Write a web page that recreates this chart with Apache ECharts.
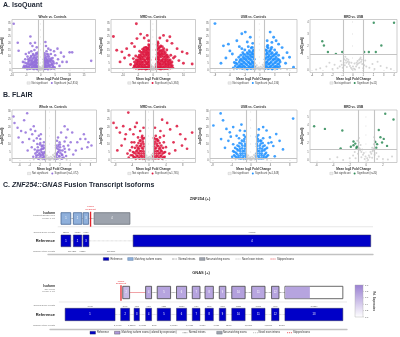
<!DOCTYPE html>
<html><head><meta charset="utf-8">
<script src="https://cdn.jsdelivr.net/npm/echarts@6/dist/echarts.min.js"></script>
<style>html,body{margin:0;padding:0;background:#fff}#c{width:400px;height:337px}</style>
</head><body><div id="c"></div>
<script>
// ---------------- DATA ----------------
const comparisons = ['Whole vs. Controls','MRD vs. Controls','USB vs. Controls','MRD vs. USB'];
const isoCounts = ['2,810','5,384','4,136','11'];
const flairCounts = ['1,072','1,765','1,348','20'];

// IsoQuant volcano points [log2FC, -log10(padj)]
const isoWholeSig = [[-9.4,34.8],[-8,20.4],[-7.7,14.4],[-3.6,25.2],[10,13.2],[10.9,13.2],[17.5,6.8],
[-1.2,1.5],[-1.4,3],[-1.6,2],[-1.3,5],[-1.8,4],[-2,1.8],[-2.2,6],[-1.5,8],[-2.5,3],[-2.8,5],[-3,2],[-2.4,9],[-3.2,7],[-3.5,4],[-1.9,11],[-2.7,12],[-3.8,9],[-4,3],[-4.3,6],[-4.6,10],[-5,5],[-5.4,8],[-5.8,3],[-3.3,14],[-2.2,15],[-4.1,13],[-1.4,17],[-2.9,18],[-3.6,20],[-5.2,12],[-1.1,13],[-2,20.5],[-6.2,6],[-1.7,6.5],[-2.6,1],[-3.9,1.2],[-4.8,2],[-5.5,1.5],[-1.2,10],[-3.4,10.5],[-4.4,8],[-2.1,3.5],[-3.1,4.5],[-1.6,12.5],
[-1.15,0.5],[-1.3,2.2],[-1.5,0.8],[-1.7,3.5],[-1.9,1.2],[-2.1,4.8],[-2.3,2.7],[-2.5,0.6],[-2.7,3.9],[-2.9,6.2],[-3.1,1.5],[-3.3,3.2],[-3.5,5.5],[-3.7,0.9],[-3.9,4.2],[-4.1,7],[-4.3,2.1],[-4.5,4.6],[-4.7,0.7],[-4.9,3.3],[-1.25,7.2],[-1.65,9],[-2.05,7.4],[-2.45,5.9],[-2.85,8.1],[-3.25,9.4],[-1.45,5.5],[-1.85,6.3],[-2.2,9.8],[-3.6,7.2],[-5.2,2.7],[-5.6,5.6],[-6,1.9],[-1.35,12],[-2.6,11],
[1.2,1.5],[1.3,4],[1.5,2.5],[1.7,6],[1.9,3],[2.1,8],[2.3,1.5],[2.5,5],[2.8,10],[3,3],[3.2,7],[3.5,12],[3.8,4],[4.1,9],[4.4,6],[4.8,2],[5,11],[5.5,5],[6,8],[6.5,3],[7,13],[8,10],[9,6],[1.4,11],[2,14],[2.6,16],[3.4,15],[1.8,18],[4.6,14],[5.8,16],[1.1,8],[2.2,12],[3.9,1.5],[7.5,6],[1.6,21],[1.2,6.5],[2.7,3.2],[3.6,8.5],[1.5,9.5],[2.4,6.8],[4.2,3],
[1.15,0.6],[1.3,2.4],[1.5,0.9],[1.7,3.8],[1.9,1.1],[2.1,5],[2.3,2.9],[2.5,0.5],[2.7,4.1],[2.9,6.4],[3.1,1.7],[3.3,3.4],[3.5,5.7],[3.7,0.8],[3.9,4.4],[4.1,6.8],[4.3,2.3],[4.5,4.8],[4.7,1],[1.25,7.4],[1.65,8.8],[2.05,7.1],[2.45,6],[2.85,8.3],[1.45,5.2],[1.85,6.6],[2.2,10],[3.6,7.4],[1.35,12.5],[2.6,11.5]];
const isoWholeNs = [[-0.9,0.2],[-0.7,0.6],[-0.5,1.1],[-0.3,0.4],[-0.1,0.9],[0.1,0.2],[0.3,0.7],[0.5,1.3],[0.7,0.3],[0.9,1.0],[-0.8,1.8],[0.8,2.2],[-0.6,2.6],[0.6,3.0],[-0.4,0.1],[0.2,1.6],[-0.2,2.1],[0,0.5],[-1.5,0.6],[-2.3,0.3],[-3.1,0.9],[-4.2,0.4],[1.6,0.5],[2.4,1.0],[3.3,0.3],[4.5,0.7],[-0.95,3.5],[0.95,4.0],[-0.85,4.8],[0.9,5.5]];

const isoMrdSig = [[-13.2,25.2],[-5.6,34.8],[-12.1,14.8],[-10.4,13.6],[-8.8,16],[-7.1,20],[-5.4,23.6],[-9.5,9],[-11,6],[-8,11],[-7.5,4],[-4.2,27],[-3,24],[-2,26],[-1.5,22],[-6.2,17.5],
[3.4,26],[4.6,22],[6.2,20],[7.9,16],[9.6,13.6],[11.2,12.4],[12.9,4.4],[2.2,24],[1.5,21],[8.5,7],[10,5],[7.2,10],[5.5,25],
[-1.1,1],[-1.2,4],[-1.1,7.5],[-1.3,11],[-1.2,14.5],[-1.4,17],[-1.6,2.5],[-1.7,6],[-1.6,9.5],[-1.8,13],[-1.9,16],[-2.1,0.8],[-2.2,4.5],[-2.0,8],[-2.3,11.5],[-2.4,15],[-2.6,2],[-2.7,6.5],[-2.8,10],[-2.9,13.5],[-3.1,1],[-3.2,4],[-3.3,8],[-3.4,12],[-3.5,15.5],[-3.7,2.5],[-3.8,6],[-3.9,9.5],[-4.0,13],[-4.2,1],[-4.3,4.5],[-4.4,8],[-4.6,11],[-4.8,2.5],[-4.9,6],[-5.0,9.5],[-5.3,1.5],[-5.4,4.5],[-5.6,7.5],[-5.8,10.5],[-6.0,3],[-6.2,6],[-6.5,1.5],[-6.6,8.5],[-2.5,17],[-3.0,16.5],[-1.5,19],[-4.5,14],
[-1.15,2.8],[-1.35,5.8],[-1.25,9],[-1.45,12.5],[-1.55,15.5],[-1.75,1.2],[-1.85,4.2],[-1.75,7.8],[-1.95,11],[-2.05,14],[-2.25,2.2],[-2.35,5.6],[-2.15,9.2],[-2.45,12.8],[-2.55,0.6],[-2.75,3.6],[-2.85,7.6],[-2.95,11.2],[-3.05,14.8],[-3.25,2.2],[-3.35,5.8],[-3.45,9.8],[-3.55,13.4],[-3.75,0.8],[-3.85,4.2],[-3.95,7.8],[-4.05,11],[-4.25,2.8],[-4.35,6.2],[-4.55,9.4],[-4.75,0.8],[-4.85,4.2],[-5.05,7.2],[-5.25,3],[-5.45,6],[-5.75,1.2],[-5.9,4.5],[-6.3,3],[-1.3,18.5],[-2.2,16.8],
[1.1,1],[1.2,4.5],[1.1,8],[1.3,11.5],[1.2,15],[1.4,18],[1.6,2.5],[1.7,6],[1.6,9.5],[1.8,13],[1.9,16.5],[2.1,0.8],[2.2,4],[2.0,7.5],[2.3,11],[2.4,14.5],[2.6,2],[2.7,6.5],[2.8,10],[2.9,13.5],[3.1,1],[3.2,4.5],[3.3,8],[3.4,12],[3.5,16],[3.7,2.5],[3.8,6],[3.9,9.5],[4.0,13],[4.2,1],[4.3,4.5],[4.4,8],[4.6,11],[4.8,2.5],[4.9,6],[5.0,9.5],[5.3,1.5],[5.4,4.5],[5.6,7.5],[5.8,11],[6.0,3],[6.2,6],[6.5,1.5],[6.7,9],[2.5,18],[3.0,17.5],[1.6,20],[4.5,15],
[1.15,2.6],[1.35,6],[1.25,9.4],[1.45,12.8],[1.55,16],[1.75,1.4],[1.85,4.4],[1.75,8],[1.95,11.4],[2.05,14.4],[2.25,2.4],[2.35,5.4],[2.15,9.6],[2.45,12.4],[2.55,0.6],[2.75,3.8],[2.85,7.4],[2.95,11.6],[3.05,15],[3.25,2.4],[3.35,6],[3.45,10],[3.55,13.8],[3.75,1],[3.85,4.4],[3.95,7.6],[4.05,11.4],[4.25,3],[4.35,6.4],[4.55,9.8],[4.75,1],[4.85,4.4],[5.05,7.4],[5.25,3.2],[5.45,6.2],[5.75,1.4],[5.9,4.8],[6.3,3.2],[1.3,19],[2.2,17.2]];
const isoMrdNs = [[-0.9,0.3],[-0.7,0.8],[-0.5,1.4],[-0.3,0.5],[-0.1,1],[0.1,0.2],[0.3,0.9],[0.5,1.6],[0.7,0.4],[0.9,1.1],[-0.8,2.2],[0.8,2.6],[-0.6,3.2],[0.6,3.6],[-0.4,0.1],[0.2,1.9],[-0.2,2.5],[0,0.6],[-1.6,0.5],[-2.5,0.3],[-3.4,0.8],[-4.6,0.4],[1.7,0.6],[2.6,1.0],[3.5,0.3],[4.7,0.7],[-0.95,4.2],[0.95,4.6],[-1.2,1.0],[1.3,1.1]];

const isoUsbSig = [[-9,34.9],[-7.3,18.1],[-6.3,19.4],[-6,14.3],[-4.6,22],[-3.6,27.2],[-2.9,28.5],[-1.9,24.6],[-5.5,12],[-6.8,9],[-2.5,21],[-1.4,20],[-4.1,17.5],[-7.8,5],
[-1.1,1],[-1.2,4.5],[-1.1,8],[-1.3,11.5],[-1.2,15],[-1.4,2.5],[-1.5,6],[-1.6,9.5],[-1.5,13],[-1.7,16.5],[-1.8,1],[-1.9,4.5],[-2.0,8],[-1.9,11.5],[-2.1,14.5],[-2.2,2.5],[-2.3,6],[-2.4,10],[-2.5,13],[-2.6,1],[-2.7,4.5],[-2.8,8],[-2.9,11.5],[-3.0,15],[-3.1,2.5],[-3.2,6],[-3.3,9.5],[-3.4,13],[-3.5,1],[-3.6,4.5],[-3.7,8],[-3.8,11],[-4.0,2.5],[-4.1,6],[-4.2,9.5],[-4.4,1.5],[-4.5,4.5],[-4.7,7.5],[-4.9,3],[-5.1,5.5],[-5.3,1.5],[-2.3,17.5],[-3.6,16],
[-1.15,2.8],[-1.35,5.6],[-1.25,9.6],[-1.45,12],[-1.35,14.2],[-1.65,1.6],[-1.75,4],[-1.7,7.2],[-1.85,10.5],[-1.95,13.4],[-2.05,2],[-2.15,5.4],[-2.25,8.8],[-2.35,12],[-2.5,0.6],[-2.55,3.6],[-2.65,7],[-2.75,10],[-2.95,1.8],[-3.05,5],[-3.15,8.4],[-3.25,11.6],[-3.4,3.2],[-3.5,6.6],[-3.65,2],[-3.85,4.2],[-3.95,7.4],[-4.25,2.8],[-4.6,1.2],[-4.8,5],[-1.5,17],
[1.1,1],[1.2,4.5],[1.1,8],[1.3,11.5],[1.2,15],[1.4,2.5],[1.5,6],[1.6,9.5],[1.5,13],[1.7,16.5],[1.8,1],[1.9,4.5],[2.0,8],[1.9,11.5],[2.1,14.5],[2.2,2.5],[2.3,6],[2.4,10],[2.5,13],[2.6,1],[2.7,4.5],[2.8,8],[2.9,11.5],[3.0,15],[3.1,2.5],[3.2,6],[3.3,9.5],[3.4,13],[3.5,1],[3.6,4.5],[3.7,8],[3.8,11],[4.0,2.5],[4.1,6],[1.6,18.5],[2.4,17],
[1.15,2.6],[1.35,5.8],[1.25,9.2],[1.45,12.4],[1.35,14.6],[1.65,1.4],[1.75,4.2],[1.7,7.4],[1.85,10.2],[1.95,13.8],[2.05,2.2],[2.15,5.2],[2.25,9],[2.35,12.2],[2.5,0.6],[2.55,3.4],[2.65,7.2],[2.75,10.4],[2.95,2],[3.05,5.2],[3.15,8.2],[3.25,11.8],[3.4,3],[3.5,6.8],[3.65,1.8],[3.85,4.4],[3.95,7.2],[1.5,17.4],[2.3,15.8],
[2.1,28.5],[2.8,24.6],[2.45,20.7],[3.8,19.4],[4.5,16.8],[5.5,13],[6.8,2],[1.5,22],[4.7,9],[5.2,5],[3.3,22],[6,9.5]];
const isoUsbNs = [[-0.9,0.2],[-0.7,0.9],[-0.5,1.5],[-0.3,0.4],[-0.1,1.1],[0.1,0.3],[0.3,0.8],[0.5,1.7],[0.7,0.5],[0.9,1.2],[-0.8,2.4],[0.8,2.8],[-0.6,3.4],[0.6,3.9],[-0.2,2.0],[0.2,2.3],[0,0.7],[-1.5,0.4],[-2.2,0.9],[-3.1,0.3],[-4,0.6],[1.6,0.5],[2.3,0.8],[3.1,0.2],[4.2,0.6],[-0.95,5],[0.95,5.4],[-5.2,0.2],[5.5,0.3]];

const isoMrdUsbSig = [[2.03,3.93],[4.01,3.93],[-3.0,2.39],[-2.84,2.04],[-2.45,1.5],[-1.67,1.35],[-1.05,1.5],[1.09,1.5],[1.55,1.5],[2.23,1.5],[2.77,2.04]];
const isoMrdUsbNs = [[-0.6,0.95],[-0.7,0.8],[-0.5,0.7],[-0.9,0.6],[-0.4,0.5],[-1.1,0.45],[-0.3,0.35],[-0.8,0.4],[-1.3,0.3],[-0.2,0.2],[-0.6,0.25],[-1.0,0.2],[-1.5,0.15],[-0.1,0.1],[0.1,0.12],[0.3,0.3],[0.5,0.55],[0.6,0.85],[0.7,0.95],[0.8,0.7],[0.9,0.5],[1.1,0.4],[0.4,0.45],[1.3,0.3],[0.6,0.2],[1.0,0.15],[1.6,0.2],[0.2,0.05],[-2.0,0.1],[-2.6,0.3],[-3.2,0.15],[-1.8,0.45],[2.1,0.1],[2.7,0.35],[3.3,0.2],[1.9,0.5],[-2.3,0.6],[2.4,0.7],[-3.6,0.05],[3.7,0.1],[-1.2,0.75],[1.2,0.8],[-0.75,1.1],[0.75,1.05],[-0.45,0.85],[0.45,0.75],[0,0.3],[-0.15,0.6],[0.15,0.55],[-0.65,0.6],[0.65,0.6],[-0.85,0.9],[0.85,0.85],[-0.35,0.65],[0.35,0.6]];

// FLAIR volcano points
const flairWholeSig = [[-7,23],[-5.1,24.6],[-4.5,29],[-6.4,20],[-5.7,18],[-4.8,17],[-3.8,19],[-3.2,21],[-3.5,16],[-2.9,18],[-2.2,15],[-4.1,13],[-3.2,12],[-2.5,10],[-5.4,11],[-1.9,13],[-1.6,9],[-1.3,7],[-2.2,6],[-2.9,4],[-1.7,3],[-1.15,2],[-2.1,1],[-1.5,4.5],[-6.2,14],[-3.6,8],[-4.4,6],[-2.6,13.5],[-1.2,11],[-1.8,16],[-3.3,2],[-1.1,5],[-2.4,8],[-1.4,1.5],[-1.9,10.5],[-2.7,2.8],[-1.6,6.8],[-1.25,9],[-2,3.5],[-3,6.5],[-7.2,27],
[-1.1,0.6],[-1.3,2.8],[-1.5,1.2],[-1.7,5.2],[-1.9,2.2],[-2.1,4.2],[-2.3,0.8],[-2.5,6],[-2.7,1.6],[-1.2,7.6],[-1.6,8.4],[-2,9.6],[-1.4,3.8],[-1.8,6.4],[-2.4,3],[-1.05,4.4],[-2.6,4.8],
[6.7,16],[7,13],[7.4,8],[5.4,11],[6,13],[7.6,11],[4.4,17],[3.5,19],[2.9,21],[2.2,17],[1.6,14],[3.2,14],[4.1,11],[5.1,6],[1.6,5],[1.1,2],[1.3,4],[1.5,7],[1.2,9],[1.8,2.5],[2.1,6],[2.4,3.5],[2.7,8.5],[1.9,11],[3,5],[3.6,9],[2.5,1.2],[1.4,12],[4.6,3.5],[3.8,6.5],[1.2,1],[2,8],[2.9,11.5],[1.7,9.5],[8.2,9],[6.3,7],
[1.1,0.6],[1.3,2.8],[1.5,1.2],[1.7,5.2],[1.9,2.2],[2.1,4.2],[2.3,0.8],[2.5,6],[2.7,1.6],[1.2,7.6],[1.6,8.4],[2,9.6],[1.4,3.8],[1.8,6.4],[2.4,3],[3.2,2.5],[2.9,7]];
const flairWholeNs = [[-0.9,0.3],[-0.7,0.7],[-0.5,1.2],[-0.3,0.4],[-0.1,0.9],[0.1,0.2],[0.3,0.8],[0.5,1.4],[0.7,0.3],[0.9,1.0],[-0.8,1.9],[0.8,2.3],[-0.6,2.8],[0.6,3.1],[0,0.5],[-0.2,1.7],[0.2,2],[-1.5,0.4],[-2.3,0.8],[-3.2,0.3],[1.6,0.6],[2.4,0.9],[3.3,0.2],[-0.95,3.6],[0.95,4]];

const flairMrdSig = [[-1.1,1],[-1.2,4],[-1.4,7],[-1.3,10],[-1.5,13],[-1.7,2.5],[-1.8,5.5],[-1.9,9],[-2.0,12],[-2.2,1],[-2.3,4],[-2.4,7],[-2.5,10.5],[-2.7,2.5],[-2.8,6],[-2.9,9],[-3.1,1],[-3.2,4],[-3.3,7.5],[-3.5,11],[-3.7,2],[-3.8,5],[-4.0,8],[-4.3,3],[-4.5,6],[-4.8,1.5],[-5.1,4],[-1.6,15],[-2.6,14],
[-1.1,2.4],[-1.3,5.4],[-1.25,8.4],[-1.45,11.4],[-1.6,1.2],[-1.75,4],[-1.7,7.4],[-1.85,10.2],[-2.05,2.6],[-2.15,5.6],[-2.2,8.6],[-2.45,1.4],[-2.55,4.4],[-2.65,7.6],[-2.9,2.8],[-3,5.4],[-3.4,1.8],[-3.55,4.6],[-3.9,3],[-1.15,13.6],[-2.2,12],
[-8.4,23],[-4.9,29.4],[-7.7,20],[-6.9,17],[-6.1,21],[-4.5,19],[-3.7,16],[-2.9,23],[-2.1,18],[-1.7,14],[-5.7,13],[-4.1,11],[-6.5,9],[-7.5,6],[-3.3,20.5],[-1.3,20],[-5.5,16],
[1.1,1],[1.2,4],[1.4,7],[1.3,10],[1.5,13],[1.7,2.5],[1.8,5.5],[1.9,9],[2.0,12],[2.2,1],[2.3,4],[2.4,7],[2.5,10.5],[2.7,2.5],[2.8,6],[2.9,9],[3.1,1],[3.2,4],[3.3,7.5],[3.5,11],[3.7,2],[3.8,5],[4.0,8],[1.6,15],[2.6,14],
[1.1,2.4],[1.3,5.4],[1.25,8.4],[1.45,11.4],[1.6,1.2],[1.75,4],[1.7,7.4],[1.85,10.2],[2.05,2.6],[2.15,5.6],[2.2,8.6],[2.45,1.4],[2.55,4.4],[2.65,7.6],[2.9,2.8],[3,5.4],[3.4,1.8],[3.55,4.6],[1.15,13.6],[2.2,12],
[10.2,17],[6.6,21],[7.4,16],[8.6,13],[5,19],[4.3,23],[3.5,15],[5.8,11],[2.7,18],[1.9,13],[7.8,9],[6.2,6],[9,7],[4.8,4],[1.4,20],[3.1,25]];
const flairMrdNs = [[-0.9,0.3],[-0.7,0.7],[-0.5,1.2],[-0.3,0.4],[-0.1,0.9],[0.1,0.2],[0.3,0.8],[0.5,1.4],[0.7,0.3],[0.9,1.0],[-0.8,1.9],[0.8,2.3],[-0.6,2.8],[0.6,3.1],[0,0.5],[-0.2,1.7],[0.2,2],[-1.5,0.4],[-2.3,0.8],[-3.2,0.3],[1.6,0.6],[2.4,0.9],[3.3,0.2],[-0.95,3.6],[0.95,4]];

const flairUsbSig = [[-1.1,1],[-1.2,4],[-1.3,7],[-1.2,10],[-1.4,13],[-1.6,2.5],[-1.7,5.5],[-1.8,9],[-1.9,12],[-2.1,1],[-2.2,4],[-2.3,7],[-2.4,10.5],[-2.6,2.5],[-2.7,6],[-2.8,9],[-3.0,1.5],[-3.1,4.5],[-3.3,7.5],[-3.5,3],[-3.7,5.5],[-3.9,2],[-1.5,15.5],[-2.5,13.5],
[-1.15,2.6],[-1.35,5.6],[-1.25,8.6],[-1.45,11.6],[-1.65,1.2],[-1.75,4],[-1.85,7.2],[-2.0,10.2],[-2.15,2.8],[-2.25,5.6],[-2.45,8.4],[-2.55,1.2],[-2.85,3.6],[-2.95,6.8],[-3.25,2.2],[-3.45,5],[-1.2,14.4],
[-7.8,21.4],[-6.3,28.9],[-5.8,24.6],[-5.1,19.3],[-4.4,17.2],[-3.7,20.4],[-3,15],[-2.3,18.3],[-4.7,11.9],[-3.7,9.8],[-5.4,7.6],[-6.2,13],[-2,22],[-4.2,14.5],[-1.3,18],
[1.1,1],[1.2,4],[1.3,7],[1.2,10],[1.4,13],[1.6,2.5],[1.7,5.5],[1.8,9],[1.9,12],[2.1,1],[2.2,4],[2.3,7],[2.4,10.5],[2.6,2.5],[2.7,6],[2.8,9],[3.0,1.5],[3.1,4.5],[3.3,7.5],[3.5,3],[1.5,15.5],[2.5,13.5],
[1.15,2.6],[1.35,5.6],[1.25,8.6],[1.45,11.6],[1.65,1.2],[1.75,4],[1.85,7.2],[2.0,10.2],[2.15,2.8],[2.25,5.6],[2.45,8.4],[2.55,1.2],[2.85,3.6],[2.95,6.8],[3.25,2.2],[1.2,14.4],
[5.2,16.1],[8.7,25.7],[5.9,11.9],[4.9,2.3],[3.2,18.3],[3.9,14],[2.5,20.4],[2.1,11.9],[4.6,8.7],[6.6,6.6],[1.6,19],[4.2,11],[3.6,10.5]];
const flairUsbNs = [[-0.9,0.3],[-0.7,0.7],[-0.5,1.2],[-0.3,0.4],[-0.1,0.9],[0.1,0.2],[0.3,0.8],[0.5,1.4],[0.7,0.3],[0.9,1.0],[-0.8,1.9],[0.8,2.3],[-0.6,2.8],[0.6,3.1],[0,0.5],[-0.2,1.7],[0.2,2],[-1.5,0.4],[-2.3,0.8],[-3.2,0.3],[1.6,0.6],[2.4,0.9],[3.3,0.2],[-0.95,3.6],[0.95,4]];

const flairMrdUsbSig = [[-6.3,3.94],[-5.0,3.64],[-2.9,3.46],[-3.1,1.42],[-1.55,1.78],[-1.34,1.96],[-1.13,1.6],[1.08,2.14],[1.3,1.9],[1.7,2.68],[1.9,2.08],[2.28,5.38],[3.28,4.72],[1.5,3.52],[2.1,2.5],[-1.55,2.2],[-1.87,1.6],[1.2,1.5],[-1.2,1.45],[2.5,1.7]];
const flairMrdUsbNs = [[-1.2,1.6],[-0.9,2.1],[-0.7,1.8],[-0.5,1.3],[-0.3,0.9],[-0.1,0.5],[0.1,0.3],[0.3,0.6],[0.5,1.0],[0.7,1.5],[0.9,1.9],[1.0,2.3],[-1.1,2.3],[-0.8,1.4],[-0.6,1.0],[-0.4,0.7],[0.4,0.4],[0.6,0.8],[0.8,1.2],[-1.4,1.0],[-1.6,0.6],[-2,0.3],[1.2,0.9],[1.5,0.5],[2,0.2],[-2.8,0.1],[2.6,0.15],[-0.2,0.2],[0.2,0.1],[-1.0,0.8],[1.0,0.7],[-1.3,0.3],[1.3,0.2],[-0.6,0.4],[0.7,0.35],[-3.5,0.4],[-4.4,0.2],[3.1,0.5],[-0.9,2.6],[0.95,2.7],[-0.75,1.2],[0.75,1.1],[-0.95,1.5],[0.9,1.4]];

// axis ranges & tick labels
const xRanges = [[-10,19],[-14,14],[-10,7.5],[-4.2,4.3],[-7.5,9.2],[-9,11],[-8.5,9.5],[-6.8,3.7]];
const yRanges = [[-2,38],[-2,38],[-2,38],[-0.2,4.2],[-1.5,31],[-1.5,31],[-1.5,31],[-0.2,5.8]];
const xTicks = [[-10,-5,0,5,10,15],[-10,-5,0,5,10],[-9,-6,-3,0,3,6],[-4,-3,-2,-1,0,1,2,3,4],[-6,-4,-2,0,2,4,6,8],[-8,-4,0,4,8],[-8,-4,0,4,8],[-6,-4,-2,0,2]];
const yTicks = [[0,5,10,15,20,25,30,35],[0,5,10,15,20,25,30,35],[0,5,10,15,20,25,30,35],[0,1,2,3,4],[0,5,10,15,20,25,30],[0,5,10,15,20,25,30],[0,5,10,15,20,25,30],[0,1,2,3,4,5]];
const fcCut = 1, padjCut = 1.3;

// ZNF254 track (display coordinate 0-100 along the locus)
const znfRefExons = [[4.0,7.0],[7.8,10.4],[10.8,12.6],[26.2,99.3]];
const znfRefNames = ['1','2','3','4'];
const znfExonLen = ['131bp','119bp','87bp','4170bp'];
const znfIntronLen = ['10143bp','983bp','10120bp'];
const znfIsoExons = [[4.0,7.0],[7.8,10.4],[10.8,12.5],[14.2,25.2]];
const znfIsoNames = ['1','2','3','4'];
const znfIsoMatch = [true,true,true,false];
const znfBreak = 13.1;

// GNAS track
const gnasRefExons = [[5.1,21.9],[23.8,26.8],[28.3,30.1],[32.2,34.2],[36.1,40.6],[42.6,46.0],[47.9,50.5],[52.2,55.0],[57.0,59.2],[61.2,65.7],[67.9,72.4],[74.6,77.1],[79.1,98.6]];
const gnasRefNames = ['1','2','3','4','5','6','7','8','9','10','11','12','13'];
const gnasExonLen = ['466bp','84bp','42bp','43bp','72bp','111bp','44bp','63bp','39bp','112bp','119bp','46bp','1072bp'];
const gnasIntronLen = ['2,747bp','3,257bp','1,066bp','87bp','1,309bp','1,046bp','246bp','149bp','187bp','1,187bp','1,253bp','253bp'];
const gnasIsoExons = [[24.5,26.8],[32.2,34.2],[36.1,40.6],[42.6,46.0],[47.9,50.5],[52.2,55.0],[57.0,59.2],[61.2,65.7],[67.9,72.4],[74.6,77.1],[79.1,98.6]];
const gnasIsoNames = ['2','4','5','6','7','8','9','10','11','12','13'];
const gnasIsoExpr = [0.55,0.7,0.72,0.7,0.72,0.7,0.7,0.75,0.7,0.72,0.72];
const gnasIsoCoveredTo = [null,null,null,null,null,null,null,null,null,null,87.5];
const gnasBreak = 23.9;
const gnasSkipped = [[26.8,32.2]];
const colorbarTicks = ['1.0','0.8','0.6','0.4','0.2','0.0'];

// ---------------- BUILD ----------------
const FONT = '"Liberation Sans", Arial, sans-serif';
const chart = echarts.init(document.getElementById('c'), null, {renderer:'canvas', width:400, height:337});
const grids=[], xAxes=[], yAxes=[], series=[], graphic=[];
const mctx = document.createElement('canvas').getContext('2d');
function tw(t, fs, w){ mctx.font=(w||'normal')+' '+fs+'px "Liberation Sans"'; return mctx.measureText(t).width; }
function txt(x,y,text,o){ o=o||{}; graphic.push({type:'text', x, y, rotation:o.rot||0, silent:true, z:100,
  style:{text, fill:o.color||'#333', fontSize:o.size||3, fontWeight:o.weight||'normal', fontStyle:o.fstyle||'normal', fontFamily:FONT,
  align:o.align||'left', verticalAlign:o.va||'middle', rich:o.rich, lineHeight:o.lh}}); }

const volcColors = ['#9370DB','#DC143C','#1E90FF','#2E8B57'];
const boxesA = [[9.5,19.5,95.5,72.5],[111,19.5,195.5,72.5],[210,19.5,297,72.5],[310,19.5,397,72.5]];
const boxesB = [[9.5,110,96.5,162.5],[111,110,195.5,162.5],[210,110,297,162.5],[310,110,397,162.5]];
const sigSets = [isoWholeSig,isoMrdSig,isoUsbSig,isoMrdUsbSig,flairWholeSig,flairMrdSig,flairUsbSig,flairMrdUsbSig];
const nsSets = [isoWholeNs,isoMrdNs,isoUsbNs,isoMrdUsbNs,flairWholeNs,flairMrdNs,flairUsbNs,flairMrdUsbNs];
const sigSize = [2.6,2.9,2.9,2.4,2.5,2.7,2.7,2.4];

function volcano(k, box, title, count, color, legY){
  const gi=grids.length; const [l,t,r,b]=box;
  grids.push({left:l, top:t, width:r-l, height:b-t, show:true, borderColor:'#b8b8b8', borderWidth:0.7, backgroundColor:'#fff'});
  const lab = {fontSize:2.6, color:'#555', fontFamily:FONT};
  xAxes.push({gridIndex:gi, type:'value', min:xRanges[k][0], max:xRanges[k][1], name:'Mean log2 Fold Change', nameLocation:'middle', nameGap:5.6,
    nameTextStyle:{fontSize:3.1, fontWeight:'bold', color:'#333', fontFamily:FONT},
    axisLine:{show:false}, axisTick:{show:true, length:0.8, lineStyle:{color:'#999', width:0.4}, customValues:xTicks[k]},
    axisLabel:Object.assign({margin:1.2, customValues:xTicks[k]}, lab), splitLine:{show:false}});
  yAxes.push({gridIndex:gi, type:'value', min:yRanges[k][0], max:yRanges[k][1], name:'-log10(padj)', nameLocation:'middle', nameGap:4.3, nameRotate:90,
    nameTextStyle:{fontSize:3.1, fontWeight:'bold', color:'#333', fontFamily:FONT},
    axisLine:{show:false}, axisTick:{show:true, length:0.8, lineStyle:{color:'#999', width:0.4}, customValues:yTicks[k]},
    axisLabel:Object.assign({margin:1.2, customValues:yTicks[k]}, lab), splitLine:{show:false}});
  series.push({type:'scatter', xAxisIndex:gi, yAxisIndex:gi, data:nsSets[k], symbolSize:2.0, itemStyle:{color:'#cbcbcb'}, silent:true, z:2,
    markLine:{silent:true, symbol:'none', animation:false, label:{show:false}, lineStyle:{color:'#c4c4c4', width:1.1, type:'solid'},
      data:[{xAxis:-fcCut},{xAxis:fcCut},{yAxis:padjCut}]}});
  series.push({type:'scatter', xAxisIndex:gi, yAxisIndex:gi, data:sigSets[k], symbolSize:sigSize[k], itemStyle:{color:color, opacity:0.85}, silent:true, z:3});
  const cx=(l+r)/2;
  txt(cx, t-2.6, title, {size:3.1, weight:'bold', align:'center', color:'#333'});
  const fs=2.6, nsT='Not significant', sT='Significant (n='+count+')';
  const w1=tw(nsT,fs), w2=tw(sT,fs);
  const total=3.2+1.2+w1+3+2.2+1.2+w2; let x0=cx-total/2;
  graphic.push({type:'rect', silent:true, shape:{x:x0, y:legY-1.2, width:3.2, height:2.4}, style:{fill:'#eeeeee', stroke:'#b5b5b5', lineWidth:0.3}});
  txt(x0+4.4, legY, nsT, {size:fs, color:'#444'});
  const cxx = x0+4.4+w1+3+1.1;
  graphic.push({type:'circle', silent:true, shape:{cx:cxx, cy:legY, r:1.0}, style:{fill:color}});
  txt(cxx+2.3, legY, sT, {size:fs, color:'#444'});
}
for (let i=0;i<4;i++) volcano(i, boxesA[i], comparisons[i], isoCounts[i], volcColors[i], 83);
for (let i=0;i<4;i++) volcano(4+i, boxesB[i], comparisons[i], flairCounts[i], volcColors[i], 173.5);

// ---- tracks ----
function track(box){
  const gi=grids.length;
  grids.push({left:box[0], top:box[1], width:box[2], height:box[3]});
  xAxes.push({gridIndex:gi, type:'value', min:0, max:100, axisLine:{show:true, lineStyle:{color:'#c2c2c2', width:1.3}}, axisTick:{show:false}, axisLabel:{show:false}, splitLine:{show:false}});
  yAxes.push({gridIndex:gi, type:'value', min:0, max:10, show:false});
  return gi;
}
function segSeries(gi, segs, y, stroke, lw, dash, z){
  return {type:'custom', xAxisIndex:gi, yAxisIndex:gi, silent:true, clip:false, z:z||3, encode:{x:[0,1], y:2},
    data:segs.map(s=>[s[0], s[1], y]),
    renderItem:(p, api)=>{ const a=api.coord([api.value(0),api.value(2)]), b=api.coord([api.value(1),api.value(2)]);
      return {type:'line', shape:{x1:a[0], y1:a[1], x2:b[0], y2:b[1]}, style:{stroke, lineWidth:lw, lineDash:dash||null}}; }};
}
function gaps(ex){ const g=[]; for(let i=0;i<ex.length-1;i++) g.push([ex[i][1], ex[i+1][0]]); return g; }
function exonSeries(gi, ex, y, h, styleFn, names){
  return {type:'custom', xAxisIndex:gi, yAxisIndex:gi, silent:true, clip:false, z:5, encode:{x:[0,1], y:2},
    data:ex.map(e=>[e[0], e[1], y]),
    renderItem:(p, api)=>{ const i=p.dataIndex;
      const a=api.coord([api.value(0),api.value(2)]), b=api.coord([api.value(1),api.value(2)]);
      const hh=api.size([0,h])[1]; const st=styleFn(i);
      const ch=[{type:'rect', shape:{x:a[0], y:a[1]-hh/2, width:b[0]-a[0], height:hh}, style:{fill:st.fill, stroke:st.stroke, lineWidth:st.lw}}];
      if (st.partTo!=null){ const pp=api.coord([st.partTo, api.value(2)]);
        ch.push({type:'rect', shape:{x:a[0]+0.4, y:a[1]-hh/2+0.4, width:pp[0]-a[0]-0.4, height:hh-0.8}, style:{fill:st.partFill}}); }
      ch.push({type:'text', x:(a[0]+b[0])/2, y:a[1], style:{text:names[i], fill:'#fff', fontSize:2.6, fontFamily:FONT, align:'center', verticalAlign:'middle'}});
      return {type:'group', children:ch}; }};
}
function labelSeries(gi, xs, y, texts, size, color){
  return {type:'custom', xAxisIndex:gi, yAxisIndex:gi, silent:true, clip:false, z:6, encode:{x:0, y:1},
    data:xs.map(x=>[x, y]),
    renderItem:(p, api)=>{ const a=api.coord([api.value(0), api.value(1)]);
      return {type:'text', x:a[0], y:a[1], style:{text:texts[p.dataIndex], fill:color, fontSize:size, fontFamily:FONT, align:'center', verticalAlign:'middle'}}; }};
}
function breakSeries(gi, x, y1, y2, ty){
  return {type:'custom', xAxisIndex:gi, yAxisIndex:gi, silent:true, clip:false, z:8, encode:{x:0, y:[1,2]},
    data:[[x, y1, y2, ty]],
    renderItem:(p, api)=>{ const a=api.coord([api.value(0), api.value(1)]), b=api.coord([api.value(0), api.value(2)]), c=api.coord([api.value(0), api.value(3)]);
      return {type:'group', children:[
        {type:'line', shape:{x1:a[0], y1:a[1], x2:b[0], y2:b[1]}, style:{stroke:'#e3242b', lineWidth:1.3}},
        {type:'text', x:c[0], y:c[1], style:{text:'Fusion\nbreakpoint', fill:'#e3242b', fontSize:2.2, lineHeight:2.5, fontFamily:FONT, align:'center', verticalAlign:'middle'}}]}; }};
}
const mid = ex => ex.map(e=>(e[0]+e[1])/2);
const REF = {fill:'#0000c8', stroke:'#2a2a55', lw:0.5};
function purple(v){ const c0=[255,255,255], c1=[154,128,210]; return 'rgb('+c0.map((c,i)=>Math.round(c+(c1[i]-c)*v)).join(',')+')'; }

// ZNF254
const zg = track([48,204,325,50]);
series.push(segSeries(zg, [[3,100]], 5.45, '#d8d8d8', 0.6));
series.push(segSeries(zg, gaps(znfIsoExons), 7.1, '#555', 0.6, [0.7,0.6]));
series.push(segSeries(zg, gaps(znfRefExons), 2.63, '#b5b5b5', 0.6, [0.7,0.6]));
series.push(exonSeries(zg, znfIsoExons, 7.1, 2.32, i=> znfIsoMatch[i] ? {fill:'#8fb0db', stroke:'#4a6a98', lw:0.8} : {fill:'#9da3ad', stroke:'#6a707a', lw:0.8}, znfIsoNames));
series.push(exonSeries(zg, znfRefExons, 2.63, 2.34, i=>REF, znfRefNames));
series.push(labelSeries(zg, mid(znfRefExons), 4.34, znfExonLen, 2.2, '#666'));
series.push(labelSeries(zg, mid(gaps(znfRefExons)), 0.6, znfIntronLen, 2.2, '#666'));
series.push(breakSeries(zg, znfBreak, 5.46, 8.46, 9.2));

// GNAS
const gg = track([50,279,297,50]);
series.push(segSeries(gg, [[3,100]], 5.4, '#d8d8d8', 0.6));
const gIsoGaps = gaps(gnasIsoExons).filter(g=>!gnasSkipped.some(s=>s[0]===g[0]&&s[1]===g[1]));
series.push(segSeries(gg, gIsoGaps, 7.3, '#555', 0.6, [0.7,0.6]));
series.push(segSeries(gg, gnasSkipped, 7.3, '#e8646c', 0.6));
series.push(segSeries(gg, gaps(gnasRefExons), 2.9, '#b5b5b5', 0.6, [0.7,0.6]));
series.push(exonSeries(gg, gnasIsoExons, 7.3, 2.48, i=> gnasIsoCoveredTo[i]!=null ? {fill:'#fff', stroke:'#444', lw:0.8, partTo:gnasIsoCoveredTo[i], partFill:purple(gnasIsoExpr[i])} : {fill:purple(gnasIsoExpr[i]), stroke:'#444', lw:0.8}, gnasIsoNames));
series.push(exonSeries(gg, gnasRefExons, 2.9, 2.48, i=>REF, gnasRefNames));
series.push(labelSeries(gg, mid(gnasRefExons), 4.6, gnasExonLen, 2.1, '#666'));
series.push(labelSeries(gg, mid(gaps(gnasRefExons)), 0.66, gnasIntronLen, 2.1, '#666'));
series.push(breakSeries(gg, gnasBreak, 5.66, 8.74, 9.35));

// ---- text / legends ----
txt(3, 5.5, 'A. IsoQuant', {size:7, weight:'bold', color:'#1e2533'});
txt(3, 95.5, 'B. FLAIR', {size:7, weight:'bold', color:'#1e2533'});
txt(3, 185.5, 'C. {i|ZNF254::GNAS} Fusion Transcript Isoforms', {size:7, weight:'bold', color:'#1e2533',
  rich:{i:{fontStyle:'italic', fontWeight:'bold', fontSize:7, fontFamily:FONT, fill:'#1e2533'}}});
txt(200, 199, 'ZNF254 (+)', {size:4, weight:'bold', align:'center', color:'#333'});
txt(201, 272.7, 'GNAS (+)', {size:4, weight:'bold', align:'center', color:'#333'});

function sideLabels(yIso, yExon, yRef, yIntron, sub1, sub2){
  txt(55, yIso, 'Isoform', {size:3.2, weight:'bold', align:'right', color:'#222'});
  txt(55, yIso+3, sub1, {size:2.2, align:'right', color:'#777'});
  txt(55, yIso+5.6, sub2, {size:2.2, align:'right', color:'#777'});
  txt(55, yExon, 'Original Exon Length', {size:2.3, align:'right', color:'#777'});
  txt(55, yRef, 'Reference', {size:4, weight:'bold', align:'right', color:'#222'});
  txt(55, yIntron, 'Original Intron Length', {size:2.3, align:'right', color:'#777'});
}
sideLabels(212.8, 232.3, 240.8, 251, 'transcript/ZNF254-201', 'Reads: 1 (pt)');
sideLabels(286, 305.8, 314.5, 325.6, 'GNAS-218', 'Reads: 1 (pt)');

function isoLegend(y, items){
  items.forEach(it=>{
    if (it.k==='rect') graphic.push({type:'rect', silent:true, shape:{x:it.x, y:y-1.4, width:5.5, height:2.8}, style:{fill:it.fill, stroke:it.stroke||'#333', lineWidth:0.4}});
    else graphic.push({type:'line', silent:true, shape:{x1:it.x, y1:y, x2:it.x+5, y2:y}, style:{stroke:it.stroke, lineWidth:0.7, lineDash:it.dash}});
    txt(it.tx, y, it.text, {size:2.6, color:'#333'});
  });
}
isoLegend(259, [
  {k:'rect', x:103.3, fill:'#0000c8', stroke:'#2a2a55', tx:110.5, text:'Reference'},
  {k:'rect', x:127.7, fill:'#8fb0db', stroke:'#4a6a98', tx:134.5, text:'Matching isoform exons'},
  {k:'line', x:172, stroke:'#555', dash:[0.7,0.6], tx:178.5, text:'Normal introns'},
  {k:'rect', x:199.5, fill:'#9da3ad', stroke:'#6a707a', tx:206, text:'Non-matching exons'},
  {k:'line', x:235.5, stroke:'#aaa', dash:[1.2,0.8], tx:242, text:'Novel exon introns'},
  {k:'line', x:270.5, stroke:'#e3242b', dash:[1.2,0.8], tx:277, text:'Skipped exons'}]);
isoLegend(332.7, [
  {k:'rect', x:90, fill:'#0000c8', stroke:'#2a2a55', tx:97, text:'Reference'},
  {k:'rect', x:114.5, fill:purple(0.8), stroke:'#444', tx:121.5, text:'Matching isoform exons (colored by expression)'},
  {k:'line', x:182.7, stroke:'#555', dash:[0.7,0.6], tx:188.7, text:'Normal introns'},
  {k:'rect', x:216.7, fill:'#9da3ad', stroke:'#6a707a', tx:223, text:'Non-matching exons'},
  {k:'line', x:253, stroke:'#aaa', dash:[1.2,0.8], tx:258.5, text:'Novel exon introns'},
  {k:'line', x:287, stroke:'#e3242b', dash:[1.2,0.8], tx:293, text:'Skipped exons'}]);

// colorbar
graphic.push({type:'rect', silent:true, shape:{x:355, y:285, width:8, height:32},
  style:{fill:new echarts.graphic.LinearGradient(0,0,0,1,[{offset:0,color:purple(1)},{offset:1,color:'#ffffff'}]), stroke:'#aaa', lineWidth:0.4}});
colorbarTicks.forEach((t,i)=>{ const y=285+i*32/(colorbarTicks.length-1);
  graphic.push({type:'line', silent:true, shape:{x1:363, y1:y, x2:364, y2:y}, style:{stroke:'#888', lineWidth:0.3}});
  txt(365, y, t, {size:2.3, color:'#444'}); });
txt(373.5, 301, 'Rel. Expression', {size:2.6, weight:'bold', align:'center', color:'#333', rot:-Math.PI/2});

chart.setOption({animation:false, backgroundColor:'#fff', grid:grids, xAxis:xAxes, yAxis:yAxes, series, graphic});
</script></body></html>
